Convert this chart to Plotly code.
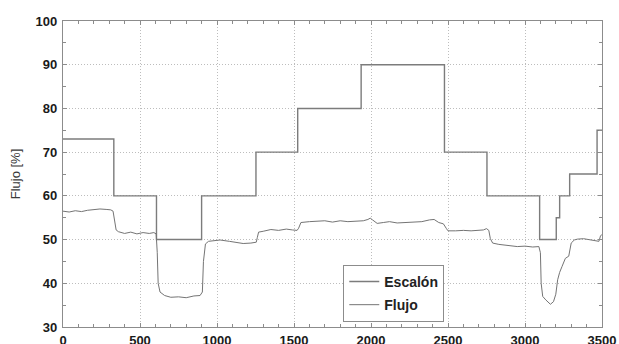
import plotly.graph_objects as go

# Escalón (step setpoint)
step_x = [0, 330, 607, 900, 1253, 1524, 1936, 2477, 2753, 3095, 3203, 3225, 3290, 3468, 3500]
step_y = [73, 60, 50, 60, 70, 80, 90, 70, 60, 50, 55, 60, 65, 75, 75]

# Flujo (measured flow)
flow_x = [0, 40, 80, 120, 160, 200, 240, 280, 310, 325, 335, 345, 360, 400, 440, 480, 520, 560, 590, 605,
          612, 618, 630, 660, 700, 750, 800, 850, 890, 905, 912, 925, 945, 980, 1020, 1080, 1130, 1170, 1220,
          1255, 1262, 1270, 1300, 1350, 1400, 1450, 1490, 1520, 1530, 1545, 1600, 1650, 1700, 1750, 1800, 1850,
          1900, 1950, 1980, 1995, 2010, 2040, 2080, 2120, 2170, 2220, 2280, 2330, 2380, 2410, 2440, 2470, 2490,
          2500, 2550, 2600, 2650, 2700, 2730, 2750, 2765, 2775, 2790, 2830, 2900, 2950, 3000, 3050, 3090, 3100,
          3105, 3115, 3135, 3165, 3185, 3200, 3212, 3225, 3240, 3262, 3284, 3292, 3300, 3320, 3340, 3380, 3420,
          3450, 3480, 3490, 3500]
flow_y = [56.5, 56.3, 56.6, 56.4, 56.7, 56.8, 57.0, 56.9, 56.8, 56.5, 54.0, 52.2, 51.8, 51.4, 51.7, 51.3, 51.6, 51.4, 51.6, 51.3,
          47.0, 40.0, 38.0, 37.2, 36.8, 36.9, 36.7, 37.1, 37.2, 38.0, 45.0, 49.0, 49.6, 49.8, 49.9, 49.6, 49.3, 49.1, 49.2,
          49.4, 50.5, 51.7, 51.9, 52.3, 52.1, 52.4, 52.2, 52.1, 52.6, 53.9, 54.1, 54.2, 54.3, 54.0, 54.3, 54.1,
          54.2, 54.3, 54.6, 54.9, 54.5, 53.7, 53.9, 54.1, 53.8, 53.9, 54.0, 54.1, 54.5, 54.6, 53.9, 53.6, 52.5,
          52.0, 52.0, 52.1, 52.0, 52.1, 52.2, 52.5, 52.1, 50.2, 49.2, 48.9, 48.6, 48.4, 48.5, 48.3, 48.4, 47.0,
          40.0, 37.0, 36.2, 35.2, 35.8, 37.5, 40.8, 42.5, 43.8, 45.7, 46.2, 47.5, 49.2, 49.9, 50.1, 50.2, 50.0,
          49.8, 49.6, 50.8, 51.2]

x_ticks = [0, 500, 1000, 1500, 2000, 2500, 3000, 3500]
y_ticks = [30, 40, 50, 60, 70, 80, 90, 100]

FONT = "Liberation Sans"
AXIS_COL = "#8c8c8c"
GRID_COL = "#bdbdbd"

fig = go.Figure()
fig.add_trace(go.Scatter(x=step_x, y=step_y, mode="lines", name="Escalón",
                         line=dict(color="#7c7c7c", width=1.4, shape="hv"),
                         legendgroup="a"))
fig.add_trace(go.Scatter(x=flow_x, y=flow_y, mode="lines", name="Flujo",
                         line=dict(color="#747474", width=1.0),
                         legendgroup="b"))

axis_common = dict(
    showline=True, linecolor=AXIS_COL, linewidth=1.2, mirror="allticks",
    ticks="inside", ticklen=4, tickcolor=AXIS_COL, tickwidth=1,
    showgrid=True, gridcolor=GRID_COL, griddash="1px,2px", gridwidth=1,
    zeroline=False, automargin=False,
    tickfont=dict(family=FONT, size=13, color="#1a1a1a", weight="bold"),
)

fig.update_xaxes(range=[0, 3500], tickvals=x_ticks, ticktext=[str(v) for v in x_ticks],
                 minor=dict(ticks="inside", dtick=100, ticklen=3, tickcolor=AXIS_COL, showgrid=False),
                 ticklabelstandoff=1,
                 **axis_common)
fig.update_yaxes(range=[30, 100], tickvals=y_ticks, ticktext=[str(v) for v in y_ticks],
                 minor=dict(ticks="inside", dtick=5, ticklen=3, tickcolor=AXIS_COL, showgrid=False),
                 ticklabelstandoff=2,
                 title=dict(text="Flujo [%]", font=dict(family=FONT, size=13, color="#3a3a3a"), standoff=12),
                 **axis_common)

fig.update_layout(
    width=619, height=344,
    margin=dict(l=63, r=17, t=21, b=17),
    plot_bgcolor="white", paper_bgcolor="white",
    showlegend=True,
    legend=dict(x=0.52, y=0.203, xanchor="left", yanchor="top",
                bgcolor="white", bordercolor=AXIS_COL, borderwidth=1,
                font=dict(family=FONT, size=14, color="#222222", weight="bold"),
                traceorder="grouped", tracegroupgap=2),
)

# remove the browser's default body margin so the figure fills the window exactly
fig.write_html("out.html",
               config={"displayModeBar": False},
               post_script="document.body.style.margin='0';document.body.style.overflow='hidden';")
